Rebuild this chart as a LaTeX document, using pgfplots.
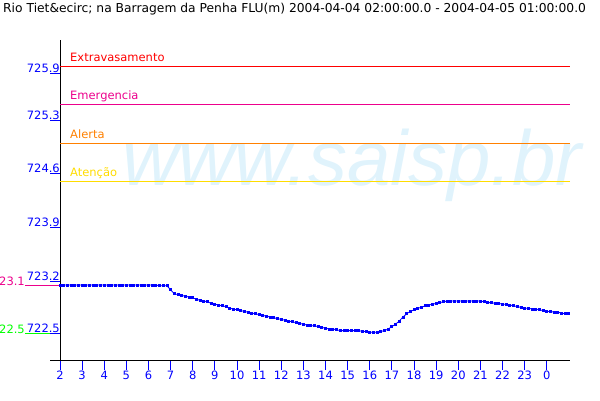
\documentclass[border=0pt]{standalone}
\usepackage{fontspec}
\setmainfont{DejaVu Sans}
\newfontfamily\wmfont{Liberation Sans}
\usepackage{pgfplots}
\usepackage{pgfplotstable}
\pgfplotsset{compat=1.18}
\definecolor{wm}{RGB}{224,243,252}
\definecolor{orng}{RGB}{255,128,0}
\definecolor{ylw}{RGB}{255,220,0}
\definecolor{grn}{RGB}{0,255,0}
\pgfplotstableread{
k v
0 723.10
1 723.10
2 723.10
3 723.10
4 723.10
5 723.10
6 723.10
7 723.10
8 723.10
9 723.10
10 723.10
11 723.10
12 723.10
13 723.10
14 723.10
15 723.10
16 723.10
17 723.10
18 723.10
19 723.10
20 723.10
21 723.10
22 723.10
23 723.10
24 723.10
25 723.10
26 723.10
27 723.09
28 723.09
29 723.09
30 723.04
31 722.99
32 722.98
33 722.97
34 722.96
35 722.95
36 722.94
37 722.92
38 722.91
39 722.90
40 722.89
41 722.87
42 722.86
43 722.85
44 722.84
45 722.83
46 722.81
47 722.80
48 722.79
49 722.78
50 722.77
51 722.76
52 722.75
53 722.74
54 722.73
55 722.72
56 722.71
57 722.70
58 722.69
59 722.68
60 722.67
61 722.66
62 722.65
63 722.64
64 722.63
65 722.62
66 722.61
67 722.60
68 722.59
69 722.59
70 722.58
71 722.57
72 722.56
73 722.55
74 722.55
75 722.54
76 722.53
77 722.53
78 722.53
79 722.53
80 722.53
81 722.53
82 722.52
83 722.52
84 722.51
85 722.51
86 722.51
87 722.52
88 722.53
89 722.55
90 722.58
91 722.61
92 722.65
93 722.70
94 722.74
95 722.77
96 722.79
97 722.81
98 722.82
99 722.84
100 722.85
101 722.86
102 722.87
103 722.88
104 722.89
105 722.90
106 722.90
107 722.90
108 722.90
109 722.90
110 722.90
111 722.90
112 722.90
113 722.90
114 722.90
115 722.89
116 722.88
117 722.88
118 722.87
119 722.87
120 722.86
121 722.86
122 722.85
123 722.84
124 722.83
125 722.82
126 722.81
127 722.81
128 722.80
129 722.80
130 722.79
131 722.78
132 722.77
133 722.77
134 722.76
135 722.76
136 722.75
137 722.74
138 722.74
}\levels
\begin{document}
\begin{tikzpicture}[x=1pt,y=1pt]
\useasboundingbox (0,0) rectangle (600,400);
\node[anchor=base west, inner sep=0pt, font=\fontsize{12.3}{14}\selectfont] at (3,387) {Rio Tiet\&ecirc; na Barragem da Penha FLU(m) 2004-04-04 02:00:00.0 - 2004-04-05 01:00:00.0};
\node[anchor=base, inner sep=0pt, font=\wmfont\fontsize{78}{78}\selectfont\itshape, text=wm] at (352,215) {www.saisp.br};
\begin{axis}[
  at={(60pt,40pt)}, anchor=south west, scale only axis,
  width=510pt, height=320pt,
  xmin=0, xmax=138.3, ymin=722.1625, ymax=726.1625,
  axis x line=bottom, axis y line=left,
  axis line style={black, -, line width=1pt},
  clip=false,
  tick align=outside, major tick length=10pt,
  tick style={blue, line width=1pt},
  xtick={0,6,12,18,24,30,36,42,48,54,60,66,72,78,84,90,96,102,108,114,120,126,132},
  xticklabels={2,3,4,5,6,7,8,9,10,11,12,13,14,15,16,17,18,19,20,21,22,23,0},
  ytick={722.5,723.15,723.825,724.5,725.1625,725.75},
  yticklabels={722.5,723.2,723.9,724.6,725.3,725.9},
  ticklabel style={font=\fontsize{11.5}{13}\selectfont, text=blue},
  /pgf/number format/assume math mode=true,
  xticklabel style={anchor=north, inner sep=1pt},
  yticklabel style={anchor=south east, inner sep=0pt, xshift=10pt},
]
\draw[black, line width=1pt] (axis cs:-2.71,722.1625) -- (axis cs:0,722.1625);
\addplot[red, line width=1pt] coordinates {(0,725.8375) (138.3,725.8375)};
\addplot[magenta, line width=1pt] coordinates {(0,725.3625) (138.3,725.3625)};
\addplot[orng, line width=1pt] coordinates {(0,724.875) (138.3,724.875)};
\addplot[ylw, line width=1pt] coordinates {(0,724.4) (138.3,724.4)};
\node[anchor=base west, inner sep=0pt, yshift=5pt, text=red, font=\fontsize{11.5}{13}\selectfont] at (axis cs:2.71,725.8375) {Extravasamento};
\node[anchor=base west, inner sep=0pt, yshift=5pt, text=magenta, font=\fontsize{11.5}{13}\selectfont] at (axis cs:2.71,725.3625) {Emergencia};
\node[anchor=base west, inner sep=0pt, yshift=5pt, text=orng, font=\fontsize{11.5}{13}\selectfont] at (axis cs:2.71,724.875) {Alerta};
\node[anchor=base west, inner sep=0pt, yshift=5pt, text=ylw, font=\fontsize{11.5}{13}\selectfont] at (axis cs:2.71,724.4) {Atenção};
\addplot[magenta, line width=1pt] coordinates {(-9.49,723.1) (0,723.1)};
\addplot[grn, line width=1pt] coordinates {(-9.49,722.5) (-2.71,722.5)};
\node[anchor=base east, inner sep=0pt, text=magenta, font=\fontsize{11.5}{13}\selectfont] at (axis cs:-9.49,723.1) {23.1};
\node[anchor=base east, inner sep=0pt, text=grn, font=\fontsize{11.5}{13}\selectfont] at (axis cs:-9.49,722.5) {22.5};
\addplot[blue, line width=0.8pt, mark=square*, mark size=1pt, mark options={blue}] table[x=k, y=v] {\levels};
\end{axis}
\end{tikzpicture}
\end{document}
